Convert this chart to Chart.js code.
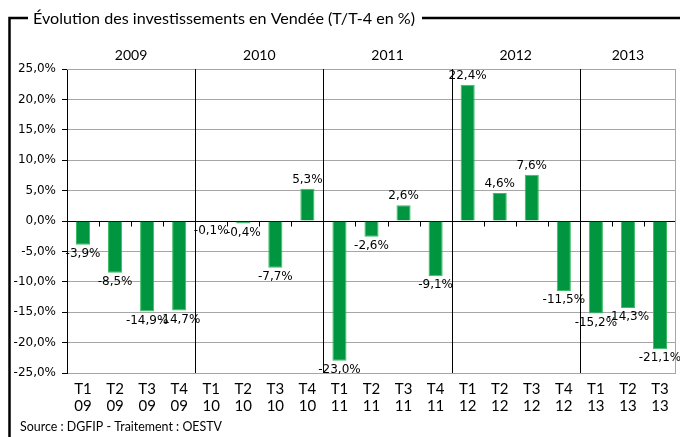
<!DOCTYPE html>
<html>
<head>
<meta charset="utf-8">
<script src="https://cdn.jsdelivr.net/npm/chart.js@4.4.1/dist/chart.umd.min.js"></script>
<style>
  html, body { margin: 0; padding: 0; background: #fff; }
</style>
</head>
<body>
<canvas id="chart" width="680" height="437"></canvas>
<script>
const years = ['2009', '2010', '2011', '2012', '2013'];
const quarters = ['T1', 'T2', 'T3', 'T4', 'T1', 'T2', 'T3', 'T4', 'T1', 'T2', 'T3', 'T4', 'T1', 'T2', 'T3', 'T4', 'T1', 'T2', 'T3'];
const shortYears = ['09', '09', '09', '09', '10', '10', '10', '10', '11', '11', '11', '11', '12', '12', '12', '12', '13', '13', '13'];
const values = [-3.9, -8.5, -14.9, -14.7, -0.1, -0.4, -7.7, 5.3, -23.0, -2.6, 2.6, -9.1, 22.4, 4.6, 7.6, -11.5, -15.2, -14.3, -21.1];

const labels = quarters.map((q, i) => [q, shortYears[i]]);
const fmt = v => v.toFixed(1).replace('.', ',') + '%';

const tickFont = { family: 'DejaVu Sans', size: 12 };
const textFont = 'Lato';

// texte ajusté à une largeur donnée
function fitText(ctx, str, x, y, width) {
  const w = ctx.measureText(str).width;
  ctx.save();
  ctx.translate(x, y);
  ctx.scale(width / w, 1);
  ctx.fillText(str, 0, 0);
  ctx.restore();
}

// cadre, titre, années, séparateurs, étiquettes
const decor = {
  id: 'decor',
  beforeDatasetsDraw(chart) {
    const ctx = chart.ctx;
    const a = chart.chartArea;
    const x = chart.scales.x;
    const y = chart.scales.y;
    ctx.save();
    // bordure haut / droite
    ctx.strokeStyle = '#a6a6a6';
    ctx.lineWidth = 1;
    ctx.beginPath();
    ctx.moveTo(a.left, a.top + 0.5);
    ctx.lineTo(a.right - 0.5, a.top + 0.5);
    ctx.lineTo(a.right - 0.5, a.bottom);
    ctx.stroke();
    // séparateurs d'années
    ctx.strokeStyle = '#000';
    for (let i = 4; i < values.length; i += 4) {
      const bx = Math.round((x.getPixelForValue(i - 1) + x.getPixelForValue(i)) / 2) + 0.5;
      ctx.beginPath();
      ctx.moveTo(bx, a.top);
      ctx.lineTo(bx, a.bottom);
      ctx.stroke();
    }
    // petites graduations sur l'axe zéro
    const y0 = Math.round(y.getPixelForValue(0)) + 0.5;
    for (let i = 1; i < values.length; i++) {
      if (i % 4 === 0) continue;
      const bx = Math.round((x.getPixelForValue(i - 1) + x.getPixelForValue(i)) / 2) + 0.5;
      ctx.beginPath();
      ctx.moveTo(bx, y0);
      ctx.lineTo(bx, y0 + 5);
      ctx.stroke();
    }
    ctx.restore();
  },
  afterDraw(chart) {
    const ctx = chart.ctx;
    const x = chart.scales.x;
    ctx.save();
    // titre et cadre
    ctx.fillStyle = '#000';
    ctx.font = '16px ' + textFont;
    ctx.textBaseline = 'alphabetic';
    ctx.textAlign = 'left';
    const title = 'Évolution des investissements en Vendée (T/T-4 en %)';
    const tx = 33, tw = 382;
    fitText(ctx, title, tx, 24, tw);
    ctx.strokeStyle = '#000';
    ctx.lineWidth = 2.5;
    ctx.beginPath();
    ctx.moveTo(680, 18);
    ctx.lineTo(tx + tw + 7, 18);
    ctx.stroke();
    ctx.beginPath();
    ctx.moveTo(28, 18);
    ctx.lineTo(9.5, 18);
    ctx.lineTo(9.5, 437);
    ctx.stroke();
    // source
    ctx.font = '14px ' + textFont;
    fitText(ctx, 'Source : DGFIP - Traitement : OESTV', 20, 431, 202);
    // années
    ctx.textAlign = 'center';
    ctx.textBaseline = 'middle';
    ctx.font = '14px ' + textFont;
    years.forEach((yr, g) => {
      const first = g * 4;
      const last = Math.min(first + 3, values.length - 1);
      const cx = (x.getPixelForValue(first) + x.getPixelForValue(last)) / 2;
      ctx.fillText(yr, cx, 55);
    });
    // étiquettes de données
    ctx.font = '12px DejaVu Sans';
    const meta = chart.getDatasetMeta(0);
    meta.data.forEach((bar, i) => {
      const v = values[i];
      if (v >= 0) {
        ctx.textBaseline = 'bottom';
        ctx.fillText(fmt(v), bar.x, bar.y - 3);
      } else {
        ctx.textBaseline = 'top';
        ctx.fillText(fmt(v), bar.x, bar.y + 3);
      }
    });
    ctx.restore();
  }
};

new Chart(document.getElementById('chart'), {
  type: 'bar',
  data: {
    labels: labels,
    datasets: [{
      data: values,
      backgroundColor: '#009640',
      borderColor: '#3dba63',
      borderWidth: 1,
      barPercentage: 0.55,
      categoryPercentage: 0.8
    }]
  },
  options: {
    responsive: false,
    animation: false,
    devicePixelRatio: 1,
    layout: { padding: { top: 69, right: 4, left: 0, bottom: 0 } },
    plugins: {
      legend: { display: false },
      tooltip: { enabled: false }
    },
    scales: {
      x: {
        grid: { display: false, drawTicks: false },
        border: { display: false },
        ticks: {
          color: '#000',
          font: { family: textFont, size: 15, lineHeight: 1.12 },
          padding: 8,
          maxRotation: 0,
          autoSkip: false
        },
        afterFit(scale) { scale.height = 64; }
      },
      y: {
        min: -25,
        max: 25,
        ticks: {
          stepSize: 5,
          color: '#000',
          font: tickFont,
          padding: 6,
          callback: v => fmt(v)
        },
        grid: {
          color: c => (c.tick && c.tick.value === 0 ? '#000' : '#a6a6a6'),
          tickColor: '#000',
          tickLength: 5,
          lineWidth: 1
        },
        border: { color: '#000', width: 1 },
        afterFit(scale) { scale.width = 67; }
      }
    }
  },
  plugins: [decor]
});
</script>
</body>
</html>
